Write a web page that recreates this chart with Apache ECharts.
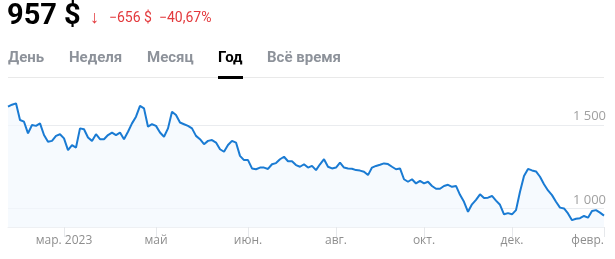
<!DOCTYPE html>
<html><head><meta charset="utf-8">
<script src="https://cdn.jsdelivr.net/npm/echarts@6/dist/echarts.min.js"></script>
<style>
html,body{margin:0;padding:0;background:#fff;width:615px;height:259px;overflow:hidden;font-family:Roboto,"Noto Sans",sans-serif;}
#chart{position:absolute;left:0;top:0;width:615px;height:259px;}
.price{position:absolute;left:7px;top:-3px;font-size:29px;font-weight:700;color:#000;}
.chg{position:absolute;top:9px;font-size:14px;color:#e3393c;white-space:nowrap;}
.arrow{position:absolute;left:90px;top:6px;font-size:18px;font-weight:700;color:#e3393c;}
.tab{position:absolute;top:48px;font-size:15px;font-weight:700;color:#8d929a;}
.tab.active{color:#000;}
.sep{position:absolute;left:8px;top:77px;width:596px;height:1px;background:#e9e9e9;}
.ul{position:absolute;left:218px;top:76px;width:25px;height:3px;background:#000;}
</style></head>
<body>
<div id="chart"></div>
<div class="price">957 $</div>
<div class="arrow">&#8595;</div>
<div class="chg" style="left:109px">&minus;656 $</div>
<div class="chg" style="left:159px">&minus;40,67%</div>
<div class="tab" style="left:8px">День</div>
<div class="tab" style="left:69px">Неделя</div>
<div class="tab" style="left:147px">Месяц</div>
<div class="tab active" style="left:218px">Год</div>
<div class="tab" style="left:267px">Всё время</div>
<div class="sep"></div>
<div class="ul"></div>
<script>
const prices = [
1610,1622,1630,1530,1520,1450,1500,1495,1510,1440,
1400,1405,1435,1445,1420,1350,1380,1365,1480,1475,
1425,1405,1445,1415,1415,1440,1455,1440,1455,1415,
1460,1510,1550,1615,1600,1490,1505,1495,1455,1430,
1480,1580,1560,1515,1505,1495,1480,1435,1415,1385,
1405,1410,1395,1355,1340,1380,1405,1395,1315,1290,
1290,1240,1235,1245,1245,1237,1265,1272,1295,1310,
1283,1283,1260,1250,1265,1245,1255,1230,1265,1295,
1250,1240,1245,1275,1245,1240,1238,1230,1227,1220,
1200,1245,1255,1262,1270,1266,1250,1235,1240,1175,
1160,1175,1150,1165,1150,1160,1135,1118,1118,1135,
1142,1130,1135,1082,1040,980,1025,1052,1085,1063,
1065,1075,1047,1022,965,972,965,990,1100,1195,
1237,1228,1222,1190,1145,1108,1080,1040,1005,1000,
970,930,938,942,955,945,985,990,975,957
];
const categories = prices.map((_, i) => String(i));
const tickIndex = [14, 37, 60, 82, 104, 126, 149];
const tickLabels = ['мар. 2023', 'май', 'июн.', 'авг.', 'окт.', 'дек.', 'февр.'];
const yTicks = [1000, 1500];

const chart = echarts.init(document.getElementById('chart'), null, {renderer: 'canvas'});
chart.setOption({
  animation: false,
  grid: {left: 8, right: 11, top: 95, bottom: 32},
  xAxis: {
    type: 'category',
    data: categories,
    boundaryGap: false,
    axisLine: {show: true, lineStyle: {color: '#eef0f3', width: 1}},
    axisTick: {show: true, length: 10, lineStyle: {color: '#e6e8eb'},
      interval: (idx) => tickIndex.includes(idx)},
    axisLabel: {
      show: true, margin: 8, fontSize: 12, color: '#8e8e8e',
      fontFamily: '"Open Sans", "Noto Sans", sans-serif',
      interval: (idx) => tickIndex.includes(idx),
      formatter: (v, idx) => { const k = tickIndex.indexOf(idx); return k >= 0 ? tickLabels[k] : ''; },
      alignMaxLabel: 'right'
    },
    splitLine: {show: false}
  },
  yAxis: {
    type: 'value',
    position: 'right',
    min: 889, max: 1680,
    axisLine: {show: false},
    axisTick: {show: false, customValues: yTicks},
    axisLabel: {
      inside: true, margin: -2, fontSize: 13, color: '#a0a0a0',
      fontFamily: '"Open Sans", "Noto Sans", sans-serif',
      verticalAlign: 'bottom', padding: [0, 0, 2, 0],
      customValues: yTicks,
      formatter: (v) => String(v).replace(/\B(?=(\d{3})+(?!\d))/g, ' ')
    },
    splitLine: {show: true, lineStyle: {color: '#eaecef', width: 1}}
  },
  series: [{
    type: 'line',
    data: prices,
    symbol: 'none',
    smooth: false,
    lineStyle: {color: '#1a7bd3', width: 2},
    areaStyle: {color: '#f2f8fe', origin: 'start'}
  }]
});
</script>
</body></html>
